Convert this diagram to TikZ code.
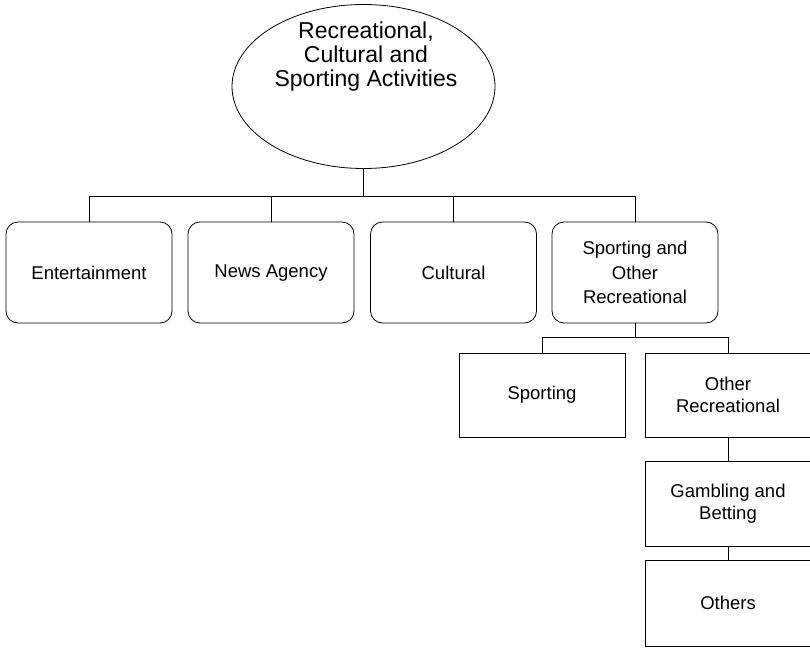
\documentclass[tikz,border=0pt]{standalone}
\usepackage{fontspec}
\setmainfont{Liberation Sans}
\usetikzlibrary{shapes.geometric}
\begin{document}
\begin{tikzpicture}[x=1pt,y=-1pt,
  line width=0.8pt,
  rbox/.style={draw,rounded corners=12pt,minimum width=166pt,minimum height=101pt,inner sep=0pt,align=center,font=\fontsize{18.5}{24.5}\selectfont},
  sbox/.style={draw,rectangle,minimum width=166pt,minimum height=84pt,inner sep=0pt,align=center,font=\fontsize{18.5}{22}\selectfont},
  txt/.style={align=center,inner sep=0pt,font=\fontsize{23}{24}\selectfont}]
\useasboundingbox (0,0) rectangle (810,650);
\clip (0,0) rectangle (810,650);
\node[draw,ellipse,minimum width=263pt,minimum height=164pt,inner sep=0pt] (root) at (363.5,86.5) {};
\node[txt] (roottext) at (366,57) {Recreational,\\Cultural and\\Sporting Activities};
\node[rbox] (ent) at (89,272.5) {Entertainment};
\node[rbox] (news) at (271,272.5) {News Agency\strut};
\node[rbox] (cult) at (453.5,272.5) {Cultural};
\node[rbox] (spo) at (635,272.5) {Sporting and\\Other\\Recreational};
\node[sbox] (sport) at (542,395) {Sporting};
\node[sbox] (orec) at (728,395) {Other\\Recreational};
\node[sbox,minimum height=85pt] (gamb) at (728,503.5) {Gambling and\\Betting};
\node[sbox,minimum height=86pt] (others) at (728,603) {Others};
\draw (root.south) -- ++(0,27) coordinate (b1);
\draw (ent.north) |- (b1);
\draw (news.north) |- (b1);
\draw (cult.north) |- (b1);
\draw (spo.north) |- (b1);
\draw (spo.south) -- ++(0,14) coordinate (b2);
\draw (sport.north) |- (b2);
\draw (orec.north) |- (b2);
\draw (orec.south) -- (gamb.north);
\draw (gamb.south) -- (others.north);
\end{tikzpicture}
\end{document}
